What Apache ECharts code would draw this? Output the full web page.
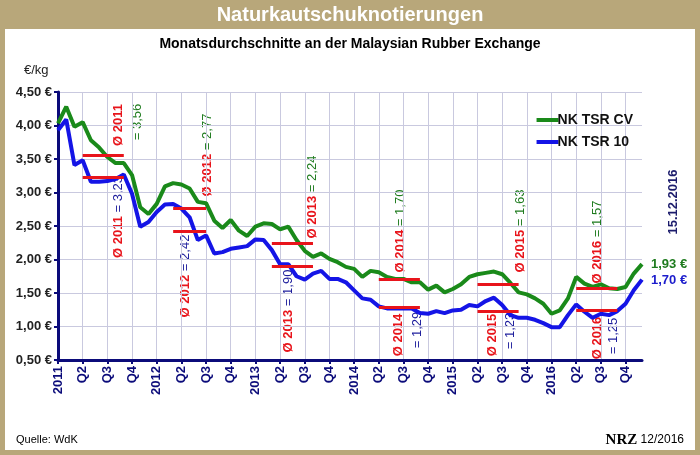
<!DOCTYPE html>
<html><head><meta charset="utf-8">
<script src="https://cdn.jsdelivr.net/npm/echarts@6/dist/echarts.min.js"></script>
<style>html,body{margin:0;padding:0;background:#b8a77a}#c{width:700px;height:455px}</style>
</head><body><div id="c"></div>
<script>
// monthly averages Jan 2011 .. Dec 2016
const years = ['2011', '2012', '2013', '2014', '2015', '2016'];
const tsrCv = [4.03, 4.28, 3.98, 4.05, 3.78, 3.67, 3.53, 3.44, 3.44, 3.26, 2.78, 2.68,
  2.83, 3.09, 3.14, 3.12, 3.06, 2.86, 2.84, 2.58, 2.47, 2.59, 2.43, 2.35,
  2.49, 2.54, 2.53, 2.45, 2.49, 2.29, 2.13, 2.04, 2.09, 2.01, 1.96, 1.89,
  1.86, 1.74, 1.83, 1.81, 1.74, 1.71, 1.71, 1.66, 1.66, 1.55, 1.61, 1.51,
  1.56, 1.63, 1.74, 1.78, 1.80, 1.82, 1.78, 1.65, 1.51, 1.48, 1.42, 1.34,
  1.19, 1.24, 1.42, 1.74, 1.64, 1.59, 1.63, 1.57, 1.56, 1.59, 1.79, 1.93];
const tsr10 = [3.93, 4.09, 3.41, 3.48, 3.16, 3.16, 3.17, 3.20, 3.27, 2.98, 2.49, 2.56,
  2.71, 2.82, 2.83, 2.76, 2.63, 2.29, 2.36, 2.09, 2.11, 2.16, 2.18, 2.20,
  2.30, 2.29, 2.14, 1.93, 1.93, 1.75, 1.70, 1.79, 1.83, 1.71, 1.71, 1.66,
  1.54, 1.42, 1.40, 1.30, 1.27, 1.27, 1.27, 1.27, 1.20, 1.19, 1.23, 1.20,
  1.24, 1.25, 1.32, 1.30, 1.38, 1.43, 1.32, 1.17, 1.13, 1.13, 1.10, 1.05,
  0.99, 0.99, 1.17, 1.33, 1.22, 1.13, 1.19, 1.17, 1.23, 1.34, 1.54, 1.70];
const avgCv = [3.56, 2.77, 2.24, 1.70, 1.63, 1.57];
const avg10 = [3.23, 2.42, 1.90, 1.29, 1.23, 1.25];
// avg bar span (month index) per year
const avgFrom = [3, 14, 26, 39, 51, 63];
const avgTo = [8, 18, 31, 44, 56, 68];

const cats = [];
years.forEach(y => ['', '', '', 'Q2', '', '', 'Q3', '', '', 'Q4', '', ''].forEach((q, i) => cats.push(i === 0 ? y : q)));

const fmt = v => v.toFixed(2).replace('.', ',');
const avgLines = vals => vals.map((v, i) => [{ coord: [avgFrom[i], v] }, { coord: [avgTo[i], v] }]);

const rich = {
  r: { fill: '#e8141b', fontWeight: 'bold', fontSize: 13, fontFamily: 'Liberation Sans' },
  g: { fill: '#1e7b1e', fontSize: 13, fontFamily: 'Liberation Sans' },
  b: { fill: '#1c1c9c', fontSize: 13, fontFamily: 'Liberation Sans' }
};
const vtext = (x, y, text) => ({ type: 'text', x, y, rotation: Math.PI / 2,
  style: { text, rich, align: 'center', verticalAlign: 'middle' } });

const labels = [
  vtext(118, 125, '{r|Ø 2011}'),
  vtext(137, 122, '{g|= ' + fmt(avgCv[0]) + '}'),
  vtext(118, 217, '{r|Ø 2011}{b| = ' + fmt(avg10[0]) + '}'),
  vtext(207, 155, '{r|Ø 2012}{g| = ' + fmt(avgCv[1]) + '}'),
  vtext(185, 276, '{r|Ø 2012}{b| = ' + fmt(avg10[1]) + '}'),
  vtext(312, 197, '{r|Ø 2013}{g| = ' + fmt(avgCv[2]) + '}'),
  vtext(288, 311, '{r|Ø 2013}{b| = ' + fmt(avg10[2]) + '}'),
  vtext(400, 231, '{r|Ø 2014}{g| = ' + fmt(avgCv[3]) + '}'),
  vtext(520, 231, '{r|Ø 2015}{g| = ' + fmt(avgCv[4]) + '}'),
  vtext(597, 242, '{r|Ø 2016}{g| = ' + fmt(avgCv[5]) + '}')
];
[[398, 335, 417, 330, 3], [492, 335, 510, 331, 4], [597, 338, 613, 336, 5]].forEach(p => {
  labels.push(vtext(p[0], p[1], '{r|Ø ' + years[p[4]] + '}'));
  labels.push(vtext(p[2], p[3], '{b|= ' + fmt(avg10[p[4]]) + '}'));
});

const chart = echarts.init(document.getElementById('c'));
chart.setOption({
  backgroundColor: '#b8a77a',
  textStyle: { fontFamily: 'Liberation Sans' },
  grid: { left: 58, right: 58, top: 92, bottom: 95 },
  legend: {
    right: 62, top: 108, orient: 'vertical', itemGap: 8, itemWidth: 22, itemHeight: 4,
    textStyle: { fontWeight: 'bold', fontSize: 14, color: '#111', padding: [0, 0, 0, -6] },
    data: [{ name: 'NK TSR CV', icon: 'rect' }, { name: 'NK TSR 10', icon: 'rect' }]
  },
  graphic: [
    { type: 'rect', shape: { x: 5, y: 29, width: 690, height: 421 }, style: { fill: '#fff' }, z: -10 },
    { type: 'text', x: 350, y: 15, style: { text: 'Naturkautschuknotierungen', fill: '#fff', font: 'bold 20px Liberation Sans', align: 'center', verticalAlign: 'middle' } },
    { type: 'text', x: 350, y: 44, style: { text: 'Monatsdurchschnitte an der Malaysian Rubber Exchange', fill: '#000', font: 'bold 14px Liberation Sans', align: 'center', verticalAlign: 'middle' } },
    { type: 'text', x: 24, y: 70, style: { text: '€/kg', fill: '#222', font: '13px Liberation Sans', verticalAlign: 'middle' } },
    { type: 'text', x: 16, y: 440, style: { text: 'Quelle: WdK', fill: '#000', font: '11px Liberation Sans', verticalAlign: 'middle' } },
    { type: 'text', x: 684, y: 440, style: { text: '{n|NRZ} 12/2016', fill: '#000', font: '12px Liberation Sans', align: 'right', verticalAlign: 'middle', rich: { n: { fontFamily: 'Liberation Serif', fontWeight: 'bold', fontSize: 15, fill: '#000' } } } },
    { type: 'text', x: 673, y: 202, rotation: Math.PI / 2, style: { text: '15.12.2016', fill: '#1c1c6c', font: 'bold 13px Liberation Sans', align: 'center', verticalAlign: 'middle' } },
    { type: 'text', x: 651, y: 264, style: { text: fmt(tsrCv[71]) + ' €', fill: '#1e7b1e', font: 'bold 13px Liberation Sans', verticalAlign: 'middle' } },
    { type: 'text', x: 651, y: 280, style: { text: fmt(tsr10[71]) + ' €', fill: '#1c1ccc', font: 'bold 13px Liberation Sans', verticalAlign: 'middle' } }
  ].concat(labels),
  xAxis: {
    type: 'category', data: cats, boundaryGap: false,
    axisLine: { lineStyle: { color: '#0b0b7a', width: 3 } },
    axisTick: { show: true, interval: 2, length: 4, lineStyle: { color: '#0b0b7a', width: 2 } },
    axisLabel: { interval: (i, v) => v !== '', rotate: 90, color: '#0b0b7a', fontWeight: 'bold', fontSize: 13, margin: 6 },
    splitLine: { show: true, interval: 2, lineStyle: { color: '#c9c9df', width: 1 } }
  },
  yAxis: {
    type: 'value', min: 0.5, max: 4.5, interval: 0.5,
    axisLine: { show: true, lineStyle: { color: '#0b0b7a', width: 3 } },
    axisTick: { show: true, length: 4, lineStyle: { color: '#0b0b7a', width: 2 } },
    axisLabel: { formatter: v => fmt(v) + ' €', color: '#222', fontWeight: 'bold', fontSize: 13, margin: 6 },
    splitLine: { lineStyle: { color: '#c9c9df', width: 1 } }
  },
  series: [
    { name: 'NK TSR CV', type: 'line', data: tsrCv, symbol: 'none', color: '#1a8a1a', lineStyle: { width: 4 },
      markLine: { silent: true, symbol: 'none', label: { show: false }, lineStyle: { color: '#e8141b', width: 3, type: 'solid' }, data: avgLines(avgCv) } },
    { name: 'NK TSR 10', type: 'line', data: tsr10, symbol: 'none', color: '#1414e6', lineStyle: { width: 4 },
      markLine: { silent: true, symbol: 'none', label: { show: false }, lineStyle: { color: '#e8141b', width: 3, type: 'solid' }, data: avgLines(avg10) } }
  ]
});
</script></body></html>
